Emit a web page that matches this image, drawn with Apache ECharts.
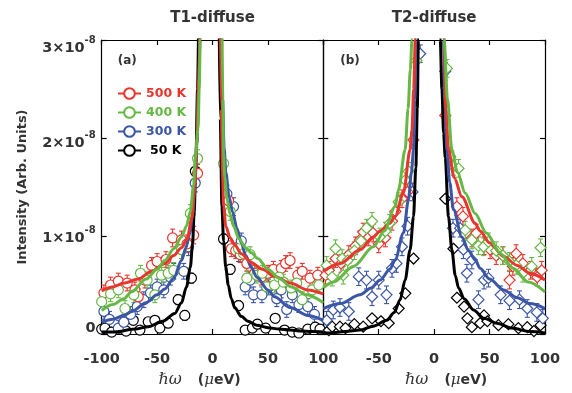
<!DOCTYPE html>
<html><head><meta charset="utf-8">
<script src="https://cdn.jsdelivr.net/npm/echarts@6/dist/echarts.min.js"></script>
<style>html,body{margin:0;padding:0;background:#fff}#c{width:572px;height:393px}</style>
</head><body><div id="c"></div>
<script>
// ---- axis / label data ----
const xMin = -100, xMax = 100, xStep = 50;
const yMin = 0, yMax = 3, yStep = 1;           // units of 1e-8
const yExp = '-8';
const titles = ['T1-diffuse', 'T2-diffuse'];
const panelTags = ['(a)', '(b)'];
const temps = ['500 K', '400 K', '300 K', '50 K'];
const yName = 'Intensity (Arb. Units)';

// ---- panel (a) T1-diffuse: points [x (ueV), I (1e-8), err] ----
const a500 = [[-98,0.42,0.08],[-92,0.50,0.08],[-85,0.54,0.08],[-77,0.52,0.08],[-70,0.45,0.08],[-67,0.38,0.08],[-61,0.55,0.08],[-55,0.70,0.08],[-50,0.74,0.08],[-42,0.76,0.08],[-36,0.98,0.09],[-28,0.96,0.09],[-23,0.92,0.09],[-17,1.01,0.09],[-13.5,1.64,0.09],
  [14.5,1.36,0.09],[17,0.87,0.08],[21,0.85,0.08],[25,0.81,0.08],[31,0.72,0.08],[38,0.62,0.08],[44,0.58,0.08],[50,0.62,0.08],[55,0.66,0.08],[62,0.67,0.08],[66,0.72,0.08],[70,0.75,0.08],[77,0.60,0.08],[81,0.64,0.08],[88,0.57,0.08],[95,0.60,0.08]];
const a400 = [[-100,0.33,0.08],[-92,0.41,0.08],[-85,0.45,0.08],[-79,0.26,0.08],[-71,0.40,0.08],[-65,0.62,0.08],[-59,0.55,0.08],[-52,0.40,0.08],[-46,0.60,0.08],[-40,0.62,0.08],[-35,0.65,0.08],[-28,0.86,0.09],[-20,1.23,0.09],[-13.5,1.79,0.09],
  [10,1.74,0.09],[16,1.25,0.09],[23.5,0.87,0.08],[28,0.82,0.08],[31,0.57,0.08],[34,0.81,0.08],[40,0.60,0.08],[45,0.62,0.08],[49,0.48,0.08],[56,0.50,0.08],[60,0.58,0.08],[64,0.53,0.08],[71,0.47,0.08],[76,0.52,0.08],[81,0.35,0.08],[90,0.45,0.08],[96,0.50,0.08]];
const a300 = [[-98,0.23,0.08],[-93,0.15,0.08],[-85,0.06,0.08],[-80,0.12,0.08],[-74,0.20,0.08],[-68,0.28,0.08],[-62,0.35,0.08],[-56,0.42,0.08],[-50,0.48,0.08],[-44,0.45,0.08],[-38,0.58,0.08],[-35,0.64,0.08],[-26,0.64,0.08],[-21.6,0.89,0.09],[-15.6,1.54,0.09],
  [13,1.43,0.09],[19,1.30,0.09],[23.5,0.82,0.08],[26,0.95,0.08],[29.5,0.48,0.08],[34,0.55,0.08],[37,0.40,0.08],[44.6,0.40,0.08],[50.5,0.48,0.08],[58,0.36,0.08],[62,0.45,0.08],[67,0.25,0.08],[72,0.40,0.08],[78,0.30,0.08],[86,0.28,0.08],[92,0.20,0.08]];
const a50 = [[-100,0.05,0.04],[-97,0.06,0.04],[-91,0.02,0.04],[-84,0.06,0.04],[-78,0.03,0.04],[-71.5,0.14,0.04],[-65.5,0.04,0.04],[-58,0.125,0.04],[-52,0.14,0.04],[-47.5,0.06,0.04],[-40,0.11,0.04],[-31,0.35,0.05],[-25,0.19,0.05],[-19,0.57,0.05],[-15.5,1.66,0.05],
  [10,0.97,0.05],[16,0.66,0.05],[23.5,0.29,0.05],[29.5,0.04,0.04],[36,0.06,0.04],[40.5,0.10,0.04],[48,0.06,0.04],[56.6,0.16,0.04],[65,0.04,0.04],[72,0.02,0.04],[78,0.01,0.04],[86,0.05,0.04],[92.7,0.07,0.04],[97,0.05,0.04]];

// ---- panel (a) fitted curves, left and right branches [x, I] ----
const fa500L = [[-100,0.44],[-90,0.48],[-80,0.52],[-67,0.56],[-55,0.64],[-43,0.72],[-35,0.80],[-28,0.88],[-23,0.97],[-18.6,1.18],[-16,1.5],[-14,2.0],[-12.5,2.6],[-11,3.3]];
const fa500R = [[7,3.3],[8,2.3],[9,1.65],[10,1.3],[12,1.1],[16,0.98],[20,0.91],[26,0.82],[35,0.73],[45,0.66],[56,0.59],[70,0.52],[86,0.45],[100,0.41]];
const fa400L = [[-100,0.24],[-90,0.30],[-80,0.36],[-73,0.43],[-60,0.56],[-50,0.66],[-43,0.75],[-35,0.87],[-28,0.99],[-23.5,1.1],[-20,1.25],[-17,1.52],[-15.5,1.8],[-13,2.1],[-12,2.5],[-11,3.0],[-10.5,3.3]];
const fa400R = [[8.5,3.3],[9.3,2.4],[10,1.85],[11,1.6],[13,1.38],[16,1.22],[19,1.1],[24,0.97],[30,0.88],[35,0.83],[41,0.77],[50,0.66],[60,0.57],[71,0.48],[85,0.40],[100,0.32]];
const fa300L = [[-100,0.12],[-90,0.15],[-80,0.19],[-73,0.23],[-60,0.32],[-50,0.40],[-43,0.46],[-35,0.57],[-28,0.75],[-24,0.88],[-20.4,1.03],[-18,1.22],[-16,1.5],[-14,1.95],[-12.5,2.5],[-11,3.3]];
const fa300R = [[7.5,3.3],[9,2.4],[10.5,1.9],[12,1.65],[15,1.4],[18,1.25],[22,1.08],[26,0.93],[30,0.80],[35,0.68],[40,0.58],[50,0.45],[56,0.38],[70,0.27],[86,0.19],[100,0.14]];
const fa50L = [[-100,0.02],[-88,0.02],[-70,0.05],[-58,0.075],[-45,0.13],[-34,0.21],[-28,0.32],[-23.5,0.48],[-20,0.68],[-18,0.92],[-16.5,1.25],[-15,1.75],[-13.5,2.5],[-12.5,3.2]];
const fa50R = [[6,3.2],[7,2.2],[8.5,1.3],[10,0.95],[12,0.68],[14.2,0.5],[17,0.36],[20,0.27],[26,0.18],[32,0.13],[40,0.09],[50,0.065],[60,0.05],[70,0.04],[80,0.03],[90,0.025],[100,0.02]];

// ---- panel (b) T2-diffuse: points [x, I, err] ----
const b500 = [[-98,0.60,0.09],[-95,0.65,0.09],[-89,0.77,0.09],[-84,0.72,0.09],[-77,0.81,0.09],[-71,0.90,0.09],[-67,0.96,0.09],[-64,1.04,0.09],[-59,0.99,0.09],[-55,1.03,0.09],[-50,0.92,0.09],[-44,0.98,0.09],[-38,1.15,0.09],[-35,1.25,0.09],[-29,1.38,0.09],[-24,1.45,0.09],[-18.7,1.98,0.09],
  [10,2.23,0.09],[14.4,1.81,0.09],[20.5,1.30,0.09],[26,1.20,0.09],[34,0.98,0.09],[38,1.03,0.09],[45,0.90,0.09],[50.5,0.86,0.09],[56,0.80,0.09],[62,0.80,0.09],[68,0.55,0.09],[71,0.69,0.09],[74,0.82,0.09],[80,0.72,0.09],[87,0.65,0.09],[93,0.58,0.09],[97,0.65,0.09]];
const b400 = [[-97,0.70,0.09],[-92,0.58,0.09],[-89,0.87,0.09],[-83,0.77,0.09],[-82,0.60,0.09],[-78,0.75,0.09],[-72,0.85,0.09],[-66,0.95,0.09],[-61,1.08,0.09],[-56,1.15,0.09],[-49,0.99,0.09],[-44,1.05,0.09],[-40,1.13,0.09],[-32,1.35,0.09],[-26,1.57,0.09],[-23,1.66,0.09],[-16,2.79,0.09],
  [11.5,2.71,0.09],[14.4,1.81,0.09],[17.4,1.71,0.09],[22,1.69,0.09],[28,1.06,0.09],[34,0.96,0.09],[40,0.90,0.09],[44.6,0.89,0.09],[49,0.94,0.09],[56,0.85,0.09],[62,0.80,0.09],[68,0.74,0.09],[74,0.70,0.09],[80,0.62,0.09],[88,0.69,0.09],[96,0.88,0.09]];
const b300 = [[-97,0.14,0.09],[-91,0.245,0.09],[-85,0.27,0.09],[-77,0.23,0.09],[-68,0.585,0.09],[-61,0.55,0.09],[-56,0.38,0.09],[-50,0.55,0.09],[-43,0.40,0.09],[-38,0.67,0.09],[-34,0.72,0.09],[-29,0.89,0.09],[-24,1.10,0.09],[-19.5,1.45,0.09],[-12.6,2.86,0.09],
  [10,2.68,0.09],[17,1.08,0.09],[23.5,1.08,0.09],[26.4,0.86,0.09],[29.5,0.62,0.09],[34,0.755,0.09],[40,0.35,0.09],[45,0.55,0.09],[49,0.57,0.09],[60,0.40,0.09],[68,0.34,0.09],[77,0.35,0.09],[84,0.26,0.09],[92.6,0.22,0.09],[98,0.16,0.09]];
const b50 = [[-95,0.04,0],[-92,0.075,0],[-85,0.075,0],[-80,0.06,0],[-72,0.10,0],[-64,0.075,0],[-56,0.16,0],[-48,0.13,0],[-41,0.11,0],[-32,0.26,0],[-26,0.415,0],[-18.6,0.77,0],
  [10,1.38,0],[17.4,0.87,0],[20.5,0.37,0],[27,0.28,0],[30,0.16,0],[34,0.07,0],[41.5,0.11,0],[45,0.19,0],[48,0.13,0],[58,0.09,0],[67,0.10,0],[76,0.06,0],[84,0.07,0],[90,0.03,0],[96,0.09,0]];

// ---- panel (b) fitted curves ----
const fb500L = [[-100,0.64],[-84.8,0.72],[-66.8,0.86],[-55,0.99],[-48.7,1.05],[-40,1.13],[-35.2,1.2],[-27.7,1.44],[-21.7,1.88],[-20,2.08],[-18.5,2.5],[-17,3.0],[-16.5,3.4]];
const fb500R = [[8.5,3.4],[9,3.0],[10.5,2.3],[12.9,1.88],[18,1.6],[25,1.40],[37,1.13],[41.5,1.05],[50,0.93],[62.7,0.79],[75,0.70],[86.6,0.62],[100,0.55]];
const fb400L = [[-100,0.47],[-90.8,0.53],[-72.8,0.69],[-54.8,0.89],[-45,1.05],[-35.2,1.3],[-32.2,1.47],[-26.2,1.88],[-23.5,2.3],[-21.5,2.7],[-20,3.0],[-19,3.4]];
const fb400R = [[8.5,3.4],[9,3.0],[12,2.4],[16,1.88],[21,1.65],[28,1.44],[37,1.23],[47,1.03],[60,0.82],[71,0.67],[85,0.53],[100,0.43]];
const fb300L = [[-100,0.26],[-84.8,0.31],[-66.8,0.40],[-57,0.47],[-48.7,0.55],[-40,0.66],[-35.2,0.755],[-27.7,1.03],[-23.2,1.37],[-20.5,1.65],[-18.6,1.88],[-17.5,2.4],[-16.5,3.0],[-16,3.4]];
const fb300R = [[8,3.4],[8.4,3.0],[9.5,2.4],[11.5,1.88],[14,1.55],[17.4,1.27],[25,0.99],[31,0.85],[37,0.755],[41.5,0.67],[50,0.56],[62.7,0.45],[75,0.37],[86.6,0.31],[100,0.26]];
const fb50L = [[-100,0.01],[-94,0.01],[-80,0.025],[-67,0.04],[-55,0.08],[-42.7,0.14],[-36,0.22],[-30.7,0.35],[-26.2,0.55],[-21.7,0.86],[-18.6,1.2],[-16.5,1.7],[-15.2,2.3],[-14.2,3.0],[-13.8,3.4]];
const fb50R = [[5,3.4],[5.5,3.0],[7,2.5],[8.5,2.05],[10,1.8],[12.9,1.2],[16,0.86],[19,0.6],[22,0.47],[27,0.36],[35.5,0.245],[45,0.16],[56.6,0.11],[70,0.06],[86.6,0.025],[100,0.01]];

// ---- style ----
const RED = '#e8352d', GREEN = '#66b845', BLUE = '#3b56a6', BLACK = '#000000';
const TXT = '#333333';
const SANS = 'DejaVu Sans';
const G = [{left:101.7, top:40, width:221.6, height:294}, {left:323.3, top:40, width:221.7, height:294}];

const chart = echarts.init(document.getElementById('c'), null, {renderer:'canvas'});

function errSeries(pts, color, gi, capW) {
  return {
    type:'custom', xAxisIndex: gi*2, yAxisIndex: gi*2, z: 2, silent: true, clip: true,
    data: pts.filter(p => p[2] > 0).map(p => [p[0], p[1]-p[2], p[1]+p[2]]),
    encode: {x: 0, y: [1, 2]},
    renderItem(params, api) {
      const x = api.value(0);
      const lo = api.coord([x, api.value(1)]);
      const hi = api.coord([x, api.value(2)]);
      const st = {stroke: color, lineWidth: 1.1};
      return {type:'group', children:[
        {type:'line', shape:{x1:lo[0], y1:lo[1], x2:hi[0], y2:hi[1]}, style: st},
        {type:'line', shape:{x1:hi[0]-capW, y1:hi[1], x2:hi[0]+capW, y2:hi[1]}, style: st},
        {type:'line', shape:{x1:lo[0]-capW, y1:lo[1], x2:lo[0]+capW, y2:lo[1]}, style: st}
      ]};
    }
  };
}
function ptSeries(pts, color, gi, symbol, size) {
  return {
    type:'scatter', xAxisIndex: gi*2, yAxisIndex: gi*2, z: 3, silent: true,
    symbol, symbolSize: size,
    itemStyle: {color:'#ffffff', borderColor: color, borderWidth: 1.2, opacity: 1},
    data: pts.map(p => [p[0], p[1]])
  };
}
function fitSeries(name, L, R, color, gi) {
  return {
    name, type:'line', xAxisIndex: gi*2, yAxisIndex: gi*2, z: 4, silent: true,
    symbol: 'emptyCircle', showSymbol: false, smooth: 0.3, smoothMonotone: 'x', clip: true,
    connectNulls: false,
    lineStyle: {color, width: 3},
    itemStyle: {color},
    data: L.concat([['-', '-']], R)
  };
}

// y tick labels: mantissa with superscript exponent; a spacer line gives the small per-label offsets seen in the original
const ySpacer = {0: 11, 1: 5, 2: 11, 3: 17};
const yLabelFmt = v => v === 0
  ? '{b|0}\n{e0| }'
  : '{e' + v + '| }\n{b|' + v + '×10}{s|' + yExp + '}';
const yRich = {
  b: {fontFamily: SANS, fontWeight: 'bold', fontSize: 14.5, color: TXT, lineHeight: 26},
  s: {fontFamily: SANS, fontWeight: 'bold', fontSize: 10, color: TXT, verticalAlign: 'top', lineHeight: 12}
};
Object.keys(ySpacer).forEach(k => { yRich['e' + k] = {fontSize: 1, lineHeight: ySpacer[k], color: 'rgba(0,0,0,0)'}; });

const xName = '{h|ℏω}{gap|}{u|(}{m|μ}{u|eV)}';
const xNameRich = {
  h: {fontFamily: 'DejaVu Serif', fontStyle: 'italic', fontSize: 16, color: TXT},
  gap: {width: 16},
  u: {fontFamily: SANS, fontWeight: 'bold', fontSize: 14, color: TXT},
  m: {fontFamily: 'DejaVu Serif', fontStyle: 'italic', fontSize: 15, color: TXT}
};
const axLine = {show: true, onZero: false, lineStyle: {color: '#000', width: 1.2}};
const tick = {show: true, inside: true, length: 5, lineStyle: {color: '#000', width: 1.2}};

function xAxes(gi) {
  return [
    {type:'value', gridIndex: gi, position:'bottom', min: xMin, max: xMax, interval: xStep,
     axisLine: axLine, axisTick: tick, splitLine: {show:false},
     axisLabel: {margin: 18, fontFamily: SANS, fontWeight:'bold', fontSize: 14.5, color: TXT, showMinLabel: gi === 0},
     name: xName, nameLocation: 'middle', nameGap: 38,
     nameTextStyle: {rich: xNameRich, padding: gi === 0 ? [0, 26, 0, 0] : [0, 0, 0, 24]}},
    {type:'value', gridIndex: gi, position:'top', min: xMin, max: xMax, interval: xStep,
     axisLine: axLine, axisTick: tick, splitLine: {show:false}, axisLabel: {show:false}}
  ];
}
function yAxes(gi) {
  return [
    {type:'value', gridIndex: gi, position:'left', min: yMin, max: yMax, interval: yStep,
     axisLine: axLine, axisTick: tick, splitLine: {show:false},
     axisLabel: gi === 0 ? {show: true, margin: 6, formatter: yLabelFmt, rich: yRich} : {show: false},
     name: gi === 0 ? yName : '', nameLocation: 'middle', nameGap: 73,
     nameTextStyle: {fontFamily: SANS, fontWeight: 'bold', fontSize: 13, color: TXT}},
    {type:'value', gridIndex: gi, position:'right', min: yMin, max: yMax, interval: yStep,
     axisLine: axLine, axisTick: tick, splitLine: {show:false}, axisLabel: {show:false}}
  ];
}

const series = [
  errSeries(a50, BLACK, 0, 2.5), errSeries(a300, BLUE, 0, 2.5), errSeries(a500, RED, 0, 2.5), errSeries(a400, GREEN, 0, 2.5),
  ptSeries(a50, BLACK, 0, 'circle', 10), ptSeries(a300, BLUE, 0, 'circle', 10), ptSeries(a500, RED, 0, 'circle', 10), ptSeries(a400, GREEN, 0, 'circle', 10),
  fitSeries(temps[3], fa50L, fa50R, BLACK, 0), fitSeries(temps[2], fa300L, fa300R, BLUE, 0),
  fitSeries(temps[0], fa500L, fa500R, RED, 0), fitSeries(temps[1], fa400L, fa400R, GREEN, 0),
  errSeries(b50, BLACK, 1, 2.5), errSeries(b300, BLUE, 1, 2.5), errSeries(b500, RED, 1, 2.5), errSeries(b400, GREEN, 1, 2.5),
  ptSeries(b50, BLACK, 1, 'diamond', 11), ptSeries(b300, BLUE, 1, 'diamond', 11), ptSeries(b500, RED, 1, 'diamond', 11), ptSeries(b400, GREEN, 1, 'diamond', 11),
  fitSeries('b' + temps[3], fb50L, fb50R, BLACK, 1), fitSeries('b' + temps[2], fb300L, fb300R, BLUE, 1),
  fitSeries('b' + temps[0], fb500L, fb500R, RED, 1), fitSeries('b' + temps[1], fb400L, fb400R, GREEN, 1)
];

const option = {
  backgroundColor: '#ffffff',
  animation: false,
  grid: G.map(g => Object.assign({containLabel: false}, g)),
  xAxis: xAxes(0).concat(xAxes(1)),
  yAxis: yAxes(0).concat(yAxes(1)),
  legend: {
    orient: 'vertical', left: 112, top: 82, itemWidth: 23, itemHeight: 13.4, itemGap: 6,
    selectedMode: false,
    textStyle: {fontFamily: SANS, fontWeight: 'bold', fontSize: 12.5},
    data: [
      {name: temps[0], textStyle: {color: RED}},
      {name: temps[1], textStyle: {color: GREEN}},
      {name: temps[2], textStyle: {color: BLUE}},
      {name: temps[3], textStyle: {color: BLACK, padding: [0, 0, 0, 4]}}
    ]
  },
  graphic: [0, 1].map(i => [
    {type:'text', x: G[i].left + G[i].width/2, y: 18, style: {text: titles[i], font: 'bold 15px "DejaVu Sans"', fill: TXT, textAlign: 'center', textVerticalAlign: 'middle'}, silent: true},
    {type:'text', x: G[i].left + 16 + (i ? 1 : 0), y: 61, style: {text: panelTags[i], font: 'bold 12px "DejaVu Sans"', fill: TXT, textVerticalAlign: 'middle'}, silent: true}
  ]).flat(),
  series
};
chart.setOption(option);
</script>
</body></html>
